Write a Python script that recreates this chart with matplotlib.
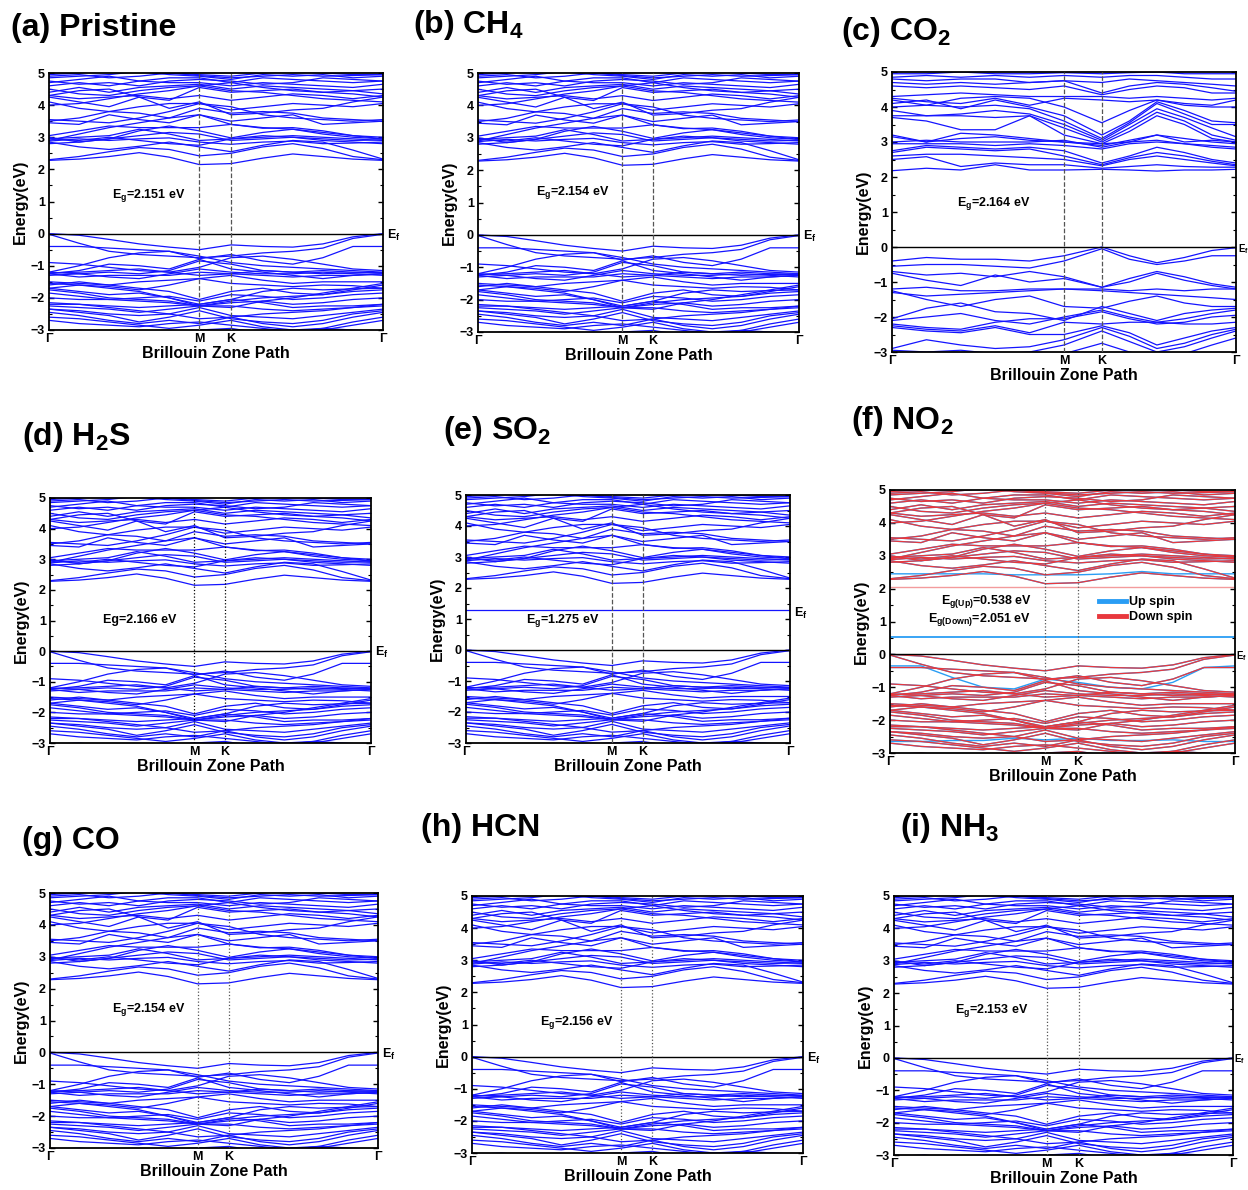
import matplotlib
matplotlib.use("Agg")
import matplotlib.pyplot as plt
from matplotlib.ticker import MultipleLocator

plt.rcParams['font.family'] = ['Liberation Sans', 'DejaVu Sans']
plt.rcParams['font.weight'] = 'bold'
plt.rcParams['mathtext.fontset'] = 'custom'
plt.rcParams['mathtext.rm'] = 'Liberation Sans:bold'
plt.rcParams['mathtext.bf'] = 'Liberation Sans:bold'
plt.rcParams['mathtext.it'] = 'Liberation Sans:bold'
plt.rcParams['mathtext.default'] = 'bf'

W, H = 1248, 1190

# k-path nodes as fraction of Γ-M-K-Γ path
k_nodes = [0, 0.09, 0.18, 0.27, 0.36, 0.45, 0.545, 0.64, 0.73, 0.82, 0.91, 1.0]
k_marks = [0, 0.45, 0.545, 1.0]
k_nodes_co2 = [0, 0.10, 0.20, 0.30, 0.40, 0.50, 0.61, 0.69, 0.77, 0.85, 0.93, 1.0]
k_marks_co2 = [0, 0.50, 0.61, 1.0]
k_labels = ['Γ', 'M', 'K', 'Γ']

# host (pristine-like) conduction bands, eV
host_cb = [
    [2.28, 2.32, 2.40, 2.52, 2.38, 2.15, 2.18, 2.35, 2.48, 2.40, 2.32, 2.28],
    [2.30, 2.40, 2.55, 2.68, 2.62, 2.42, 2.50, 2.70, 2.80, 2.65, 2.40, 2.30],
    [2.85, 2.70, 2.62, 2.72, 2.85, 2.70, 2.55, 2.75, 2.90, 2.85, 2.60, 2.32],
    [2.88, 2.95, 2.90, 2.95, 2.98, 2.85, 2.78, 2.85, 2.88, 2.80, 2.82, 2.85],
    [2.95, 3.00, 3.05, 3.25, 3.10, 2.90, 2.95, 3.00, 3.05, 3.00, 2.95, 2.90],
    [2.95, 2.90, 3.00, 2.90, 2.80, 2.75, 2.95, 3.05, 3.00, 2.95, 2.90, 2.92],
    [3.00, 2.85, 2.95, 3.20, 3.35, 3.20, 2.98, 3.15, 3.25, 3.10, 3.00, 2.95],
    [3.05, 3.20, 3.35, 3.30, 3.30, 3.30, 3.40, 3.28, 3.30, 3.20, 3.05, 3.00],
    [2.80, 2.85, 2.95, 3.05, 3.15, 3.10, 2.90, 2.95, 3.00, 2.90, 2.85, 2.80],
    [2.90, 3.10, 3.30, 3.45, 3.60, 3.70, 3.40, 3.30, 3.25, 3.15, 3.05, 2.95],
    [3.45, 3.40, 3.70, 3.55, 3.45, 3.70, 3.50, 3.60, 3.70, 3.40, 3.45, 3.50],
    [3.50, 3.60, 3.80, 3.75, 3.60, 3.90, 3.75, 3.80, 3.75, 3.60, 3.55, 3.50],
    [3.55, 3.50, 3.45, 3.60, 3.80, 4.05, 3.95, 3.70, 3.60, 3.55, 3.50, 3.55],
    [4.10, 3.90, 3.80, 3.95, 4.05, 4.05, 3.85, 3.95, 4.05, 4.00, 3.95, 4.05],
    [4.25, 4.10, 3.95, 4.25, 3.90, 4.10, 3.70, 3.75, 3.85, 3.90, 4.10, 4.25],
    [4.30, 4.20, 4.25, 4.30, 4.20, 4.30, 4.15, 4.25, 4.35, 4.30, 4.20, 4.30],
    [4.00, 4.05, 4.20, 4.35, 4.45, 4.60, 4.45, 4.40, 4.30, 4.20, 4.15, 4.10],
    [4.30, 4.45, 4.50, 4.25, 4.15, 4.55, 4.40, 4.45, 4.50, 4.40, 4.35, 4.25],
    [4.50, 4.35, 4.30, 4.45, 4.55, 4.60, 4.70, 4.55, 4.45, 4.40, 4.45, 4.50],
    [4.40, 4.55, 4.40, 4.55, 4.60, 4.65, 4.50, 4.60, 4.55, 4.50, 4.45, 4.35],
    [4.60, 4.70, 4.60, 4.75, 4.70, 4.70, 4.60, 4.70, 4.65, 4.60, 4.55, 4.65],
    [4.75, 4.65, 4.70, 4.60, 4.75, 4.80, 4.75, 4.65, 4.70, 4.85, 4.80, 4.75],
    [4.70, 4.80, 4.90, 4.75, 4.85, 4.85, 4.70, 4.85, 4.80, 4.75, 4.70, 4.75],
    [4.85, 4.90, 4.95, 5.05, 4.95, 4.90, 4.80, 4.95, 4.90, 4.95, 4.85, 4.90],
    [4.90, 4.95, 4.85, 4.90, 5.00, 4.92, 4.85, 4.90, 4.95, 4.90, 4.92, 4.95],
    [4.95, 5.00, 5.10, 5.10, 5.00, 4.95, 4.90, 5.00, 5.05, 5.00, 4.95, 4.95],
]

# host valence bands, eV
host_vb = [
    [0.00, -0.05, -0.18, -0.32, -0.42, -0.50, -0.35, -0.40, -0.42, -0.32, -0.10, 0.00],
    [-0.02, -0.30, -0.55, -0.65, -0.70, -0.75, -0.70, -0.60, -0.55, -0.45, -0.15, -0.02],
    [-0.40, -0.40, -0.45, -0.50, -0.55, -0.78, -0.65, -0.85, -0.95, -0.75, -0.40, -0.40],
    [-0.90, -0.95, -1.05, -1.15, -1.20, -1.05, -0.75, -0.70, -0.80, -0.95, -1.10, -1.15],
    [-1.20, -1.00, -0.75, -0.60, -0.55, -0.70, -0.90, -1.00, -1.05, -1.10, -1.15, -1.20],
    [-1.25, -1.15, -0.95, -1.00, -1.10, -0.80, -1.10, -1.20, -1.30, -1.40, -1.30, -1.25],
    [-1.20, -1.25, -1.20, -1.25, -1.15, -0.85, -0.95, -1.15, -1.20, -1.15, -1.20, -1.22],
    [-1.22, -1.20, -1.15, -1.10, -1.20, -1.30, -1.25, -1.15, -1.20, -1.25, -1.22, -1.22],
    [-1.30, -1.25, -1.35, -1.40, -1.25, -1.10, -1.20, -1.25, -1.25, -1.20, -1.25, -1.30],
    [-1.25, -1.35, -1.30, -1.30, -1.30, -1.20, -1.25, -1.30, -1.35, -1.30, -1.30, -1.25],
    [-1.50, -1.55, -1.60, -1.50, -1.45, -1.40, -1.30, -1.45, -1.55, -1.50, -1.50, -1.50],
    [-1.55, -1.60, -1.70, -1.80, -2.00, -2.25, -2.30, -2.10, -2.00, -1.85, -1.70, -1.55],
    [-1.60, -1.50, -1.60, -1.70, -1.80, -2.05, -1.80, -1.70, -1.85, -1.90, -1.75, -1.60],
    [-1.70, -1.60, -1.65, -1.75, -1.60, -1.40, -1.55, -1.60, -1.65, -1.60, -1.62, -1.70],
    [-1.70, -1.80, -1.90, -1.85, -2.00, -2.20, -2.05, -1.80, -1.70, -1.75, -1.72, -1.70],
    [-1.75, -1.85, -2.00, -2.05, -2.10, -2.25, -2.10, -2.00, -1.95, -1.90, -1.80, -1.75],
    [-1.85, -1.95, -2.05, -2.00, -1.95, -2.10, -1.90, -1.95, -2.05, -2.00, -1.90, -1.85],
    [-2.00, -2.05, -2.05, -2.10, -2.15, -2.25, -2.15, -2.10, -2.20, -2.15, -2.05, -2.00],
    [-2.15, -2.20, -2.30, -2.40, -2.50, -2.65, -2.60, -2.50, -2.45, -2.40, -2.30, -2.20],
    [-2.20, -2.20, -2.25, -2.30, -2.25, -2.20, -2.05, -2.15, -2.30, -2.25, -2.25, -2.20],
    [-2.25, -2.30, -2.35, -2.45, -2.35, -2.25, -2.25, -2.35, -2.40, -2.35, -2.30, -2.25],
    [-2.35, -2.40, -2.50, -2.55, -2.50, -2.30, -2.55, -2.60, -2.65, -2.55, -2.45, -2.35],
    [-2.35, -2.45, -2.55, -2.75, -2.60, -2.40, -2.65, -2.75, -2.80, -2.70, -2.50, -2.40],
    [-2.45, -2.55, -2.70, -2.80, -2.70, -2.80, -2.60, -2.80, -2.90, -2.80, -2.60, -2.45],
    [-2.60, -2.65, -2.75, -2.85, -2.95, -2.85, -2.70, -2.90, -3.00, -2.95, -2.75, -2.60],
    [-2.70, -2.80, -2.85, -2.90, -2.80, -2.75, -2.85, -2.95, -3.05, -3.00, -2.85, -2.70],
    [-3.05, -3.00, -3.10, -3.10, -3.05, -3.00, -2.95, -3.10, -3.05, -2.95, -3.00, -3.05],
]

# CO2 adsorbed system, eV
co2_cb = [
    [2.18, 2.25, 2.20, 2.35, 2.20, 2.20, 2.22, 2.20, 2.17, 2.20, 2.20, 2.22],
    [2.50, 2.58, 2.30, 2.40, 2.35, 2.35, 2.25, 2.30, 2.35, 2.30, 2.28, 2.28],
    [2.60, 2.65, 2.65, 2.60, 2.55, 2.50, 2.32, 2.50, 2.60, 2.50, 2.40, 2.32],
    [2.70, 2.85, 2.80, 2.75, 2.80, 2.60, 2.35, 2.55, 2.70, 2.60, 2.45, 2.35],
    [2.75, 2.90, 2.85, 2.80, 2.85, 2.75, 2.40, 2.60, 2.85, 2.70, 2.50, 2.40],
    [2.95, 2.95, 2.95, 2.90, 2.95, 2.90, 2.80, 2.95, 3.00, 2.95, 2.85, 2.80],
    [3.00, 3.05, 3.00, 3.00, 3.00, 3.05, 2.85, 3.00, 3.05, 2.95, 2.90, 2.85],
    [3.20, 3.00, 3.10, 3.15, 3.05, 3.00, 2.90, 3.05, 3.20, 3.10, 3.00, 2.95],
    [3.15, 3.00, 3.25, 3.20, 3.10, 3.00, 2.95, 3.00, 3.20, 3.00, 3.05, 3.00],
    [3.70, 3.60, 3.35, 3.35, 3.75, 3.20, 2.95, 3.30, 3.75, 3.50, 3.10, 3.00],
    [3.75, 3.75, 3.75, 3.70, 3.75, 3.40, 3.00, 3.40, 3.85, 3.60, 3.20, 3.05],
    [3.90, 3.75, 3.80, 3.90, 3.80, 3.50, 3.05, 3.50, 3.95, 3.70, 3.40, 3.15],
    [4.00, 4.05, 4.00, 4.05, 3.95, 3.60, 3.10, 3.55, 4.10, 3.80, 3.50, 3.50],
    [4.10, 4.20, 3.95, 4.20, 4.00, 3.75, 3.20, 3.60, 4.15, 3.90, 3.60, 3.55],
    [4.20, 4.05, 4.25, 4.30, 4.25, 4.00, 3.55, 3.90, 4.20, 4.05, 4.00, 4.00],
    [4.25, 4.15, 4.10, 4.25, 4.05, 4.25, 4.20, 4.15, 4.20, 4.10, 4.05, 4.20],
    [4.30, 4.35, 4.40, 4.35, 4.30, 4.30, 4.30, 4.25, 4.30, 4.25, 4.20, 4.25],
    [4.60, 4.55, 4.60, 4.55, 4.50, 4.60, 4.35, 4.50, 4.60, 4.55, 4.40, 4.40],
    [4.70, 4.65, 4.70, 4.65, 4.70, 4.75, 4.40, 4.60, 4.70, 4.65, 4.55, 4.45],
    [4.80, 4.75, 4.80, 4.80, 4.70, 4.75, 4.70, 4.80, 4.75, 4.70, 4.65, 4.60],
    [4.85, 4.90, 4.85, 4.90, 4.85, 4.90, 4.85, 4.90, 4.90, 4.85, 4.80, 4.80],
    [4.95, 4.95, 5.00, 4.95, 4.95, 4.98, 4.95, 4.98, 5.00, 4.95, 4.95, 4.95],
]
co2_vb = [
    [-0.40, -0.30, -0.35, -0.35, -0.40, -0.25, 0.00, -0.25, -0.45, -0.30, -0.10, -0.02],
    [-0.55, -0.50, -0.50, -0.55, -0.60, -0.40, -0.05, -0.35, -0.50, -0.40, -0.25, -0.25],
    [-0.70, -0.80, -0.75, -0.85, -0.70, -0.85, -1.15, -0.90, -0.70, -0.85, -1.05, -1.15],
    [-0.75, -0.95, -1.10, -0.80, -1.00, -0.90, -1.15, -1.00, -0.75, -0.95, -1.10, -1.20],
    [-1.20, -1.15, -1.25, -1.25, -1.20, -1.20, -1.20, -1.25, -1.20, -1.25, -1.20, -1.20],
    [-1.30, -1.40, -1.35, -1.30, -1.25, -1.20, -1.25, -1.30, -1.35, -1.40, -1.45, -1.50],
    [-1.25, -1.50, -1.70, -1.50, -1.40, -1.70, -1.75, -1.55, -1.40, -1.60, -1.70, -1.70],
    [-2.05, -1.75, -1.60, -1.85, -1.90, -2.10, -1.70, -1.90, -2.10, -1.90, -1.80, -1.75],
    [-2.10, -2.00, -1.90, -2.10, -2.20, -2.00, -1.80, -2.00, -2.15, -2.05, -1.90, -1.80],
    [-2.20, -2.30, -2.35, -2.15, -2.05, -2.05, -1.85, -2.05, -2.20, -2.15, -2.00, -1.95],
    [-2.25, -2.35, -2.40, -2.25, -2.45, -2.15, -2.20, -2.15, -2.15, -2.20, -2.20, -2.15],
    [-2.30, -2.40, -2.45, -2.30, -2.50, -2.50, -2.25, -2.45, -2.80, -2.60, -2.40, -2.30],
    [-2.90, -2.65, -2.80, -2.90, -2.85, -2.65, -2.30, -2.55, -2.90, -2.75, -2.50, -2.35],
    [-2.95, -3.00, -2.95, -3.05, -3.00, -2.80, -2.40, -2.70, -3.00, -2.85, -2.60, -2.40],
    [-3.10, -3.05, -3.10, -3.15, -3.20, -3.05, -2.75, -3.00, -3.15, -3.05, -2.80, -2.60],
]

# adsorbate levels / NO2 spin-up extra bands
so2_level = 1.275
no2_up_level = 0.54
no2_down_level = 2.05
no2_up_extra = [
    [2.45, 2.45, 2.45, 2.45, 2.42, 2.42, 2.42, 2.45, 2.52, 2.45, 2.45, 2.45],
    [-0.35, -0.35, -0.70, -1.00, -1.05, -0.75, -0.85, -1.00, -1.05, -0.85, -0.40, -0.35],
    [-2.65, -2.65, -2.62, -2.62, -2.55, -2.60, -2.55, -2.62, -2.62, -2.60, -2.65, -2.65],
]

gap_labels = ['E$_g$=2.151 eV', 'E$_g$=2.154 eV', 'E$_g$=2.164 eV', 'Eg=2.166 eV',
              'E$_g$=1.275 eV', '', 'E$_g$=2.154 eV', 'E$_g$=2.156 eV', 'E$_g$=2.153 eV']
titles = ['(a) Pristine', '(b) CH$_4$', '(c) CO$_2$', '(d) H$_2$S', '(e) SO$_2$',
          '(f) NO$_2$', '(g) CO', '(h) HCN', '(i) NH$_3$']

BLUE = '#1414ff'
UP = '#2a9df4'
DOWN = '#e8383d'

# layout in pixels: axes box (left, right, top, bottom), title pos, gap-text pos (k, E)
layout = [
    dict(box=(49, 383, 73, 330), tpos=(11, 28), gpos=(0.19, 1.2), vstyle=('--', '#555555')),
    dict(box=(478, 799, 73, 332), tpos=(413, 25), gpos=(0.18, 1.3), vstyle=('--', '#555555')),
    dict(box=(892, 1236, 72, 352), tpos=(841, 32), gpos=(0.19, 1.23), vstyle=('--', '#555555')),
    dict(box=(50, 371, 498, 743), tpos=(22, 437), gpos=(0.165, 1.02), vstyle=(':', 'black')),
    dict(box=(466, 790, 495, 743), tpos=(443, 431), gpos=(0.185, 0.95), vstyle=('--', '#555555')),
    dict(box=(890, 1235, 490, 753), tpos=(851, 421), gpos=(0.41, 1.6), vstyle=(':', '#555555')),
    dict(box=(50, 378, 893, 1148), tpos=(22, 841), gpos=(0.19, 1.33), vstyle=(':', '#555555')),
    dict(box=(472, 803, 896, 1153), tpos=(421, 828), gpos=(0.205, 1.05), vstyle=(':', '#555555')),
    dict(box=(894, 1233, 896, 1155), tpos=(900, 828), gpos=(0.18, 1.45), vstyle=(':', '#555555')),
]

fig = plt.figure(figsize=(W / 100, H / 100), dpi=100)


def make_axes(box):
    l, r, t, b = box
    return fig.add_axes([l / W, 1 - b / H, (r - l) / W, (b - t) / H])


def draw_bands(ax, k, bands, color, lw=0.9):
    for band in bands:
        ax.plot(k, band, color=color, lw=lw, solid_joinstyle='round')


for i, lay in enumerate(layout):
    ax = make_axes(lay['box'])
    if i == 2:
        kn, km = k_nodes_co2, k_marks_co2
        draw_bands(ax, kn, co2_cb + co2_vb, BLUE)
    elif i == 5:
        kn, km = k_nodes, k_marks
        draw_bands(ax, kn, host_cb + host_vb + no2_up_extra, UP, 1.0)
        ax.axhline(no2_up_level, color=UP, lw=1.3)
        draw_bands(ax, kn, host_cb + host_vb, DOWN, 0.9)
        ax.axhline(no2_down_level, color=DOWN, lw=1.0, alpha=0.5)
    else:
        kn, km = k_nodes, k_marks
        draw_bands(ax, kn, host_cb + host_vb, BLUE)
        if i == 4:
            ax.axhline(so2_level, color=BLUE, lw=0.9)

    ax.axhline(0, color='black', lw=1.0, zorder=3)
    ls, vc = lay['vstyle']
    for kk in km[1:3]:
        ax.axvline(kk, color=vc, ls=ls, lw=0.9, zorder=3)

    ax.set_xlim(0, 1)
    ax.set_ylim(-3, 5)
    ax.set_xticks(km)
    ax.set_xticklabels(k_labels, fontsize=9, fontweight='bold')
    ax.tick_params(axis='x', length=0, pad=2)
    ax.yaxis.set_major_locator(MultipleLocator(1))
    ax.yaxis.set_minor_locator(MultipleLocator(0.5))
    ax.tick_params(axis='y', which='both', direction='in', right=True, labelsize=9, pad=3)
    ax.tick_params(axis='y', which='major', length=3.5, width=1)
    ax.tick_params(axis='y', which='minor', length=2, width=0.8)
    for lab in ax.get_yticklabels():
        lab.set_fontweight('bold')
    for sp in ax.spines.values():
        sp.set_linewidth(1.3)
    ax.set_xlabel('Brillouin Zone Path', fontsize=11.5, fontweight='bold', labelpad=1)
    ax.set_ylabel('Energy(eV)', fontsize=11.5, fontweight='bold', labelpad=2)

    # Fermi-level label, squeezed in for panels at the right edge of the figure
    ef_y = so2_level - 0.1 if i == 4 else -0.05
    right_px = lay['box'][1]
    if W - right_px < 20:
        ef_x, ef_size = 1.0 + 1.5 / (right_px - lay['box'][0]), 7
    else:
        ef_x, ef_size = 1.012, 9
    ax.text(ef_x, ef_y, 'E$_f$', transform=ax.get_yaxis_transform(), fontsize=ef_size,
            fontweight='bold', va='center', ha='left', clip_on=False)

    gx, gy = lay['gpos']
    if i == 5:
        ax.text(gx, gy, 'E$_{g(Up)}$=0.538 eV', fontsize=9, ha='right', va='center')
        ax.text(gx, gy - 0.55, 'E$_{g(Down)}$=2.051 eV', fontsize=9, ha='right', va='center')
        ax.plot([], [], color=UP, lw=3.5, label='Up spin')
        ax.plot([], [], color=DOWN, lw=3.5, label='Down spin')
        ax.legend(loc='center left', bbox_to_anchor=(0.59, 0.545), frameon=False, fontsize=9,
                  handlelength=2.2, handletextpad=0.2, borderaxespad=0, labelspacing=0.2)
    else:
        ax.text(gx, gy, gap_labels[i], fontsize=9, ha='left', va='center')

    tx, ty = lay['tpos']
    fig.text(tx / W, 1 - ty / H, titles[i], fontsize=23, fontweight='bold', ha='left', va='center')

fig.savefig('out.png', dpi=100)
